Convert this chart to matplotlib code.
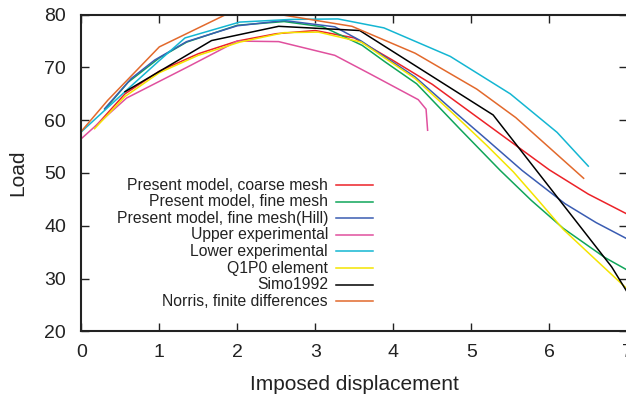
import numpy as np
import matplotlib
matplotlib.use('Agg')
from matplotlib import pyplot as plt

plt.rcParams['font.family'] = ['Liberation Sans', 'DejaVu Sans']

# Load vs imposed displacement, one list pair per curve
coarse_x = [0.18, 0.56, 1.0, 1.5, 2.0, 2.5, 3.0, 3.5, 4.0, 4.5, 5.0, 5.5, 6.0, 6.5, 7.0]
coarse_y = [58.8, 65.0, 69.3, 72.6, 75.0, 76.4, 77.0, 75.6, 71.3, 66.8, 61.4, 56.0, 50.6, 46.0, 42.2]

fine_x = [0.3, 0.6, 1.0, 1.35, 2.0, 2.6, 3.1, 3.6, 3.9, 4.3, 4.85, 5.37, 5.77, 6.18, 6.71, 7.0]
fine_y = [62.0, 67.2, 71.8, 74.8, 78.0, 78.7, 77.7, 74.2, 71.0, 66.9, 58.4, 50.5, 44.8, 39.5, 34.0, 31.6]

hill_x = [0.3, 0.64, 0.94, 1.35, 2.0, 2.6, 3.25, 3.59, 4.28, 4.8, 5.2, 5.65, 6.2, 6.6, 7.0]
hill_y = [62.2, 67.9, 71.4, 74.9, 77.9, 78.9, 77.7, 75.0, 68.2, 61.4, 56.3, 50.5, 44.2, 40.6, 37.5]

upper_x = [0.0, 0.58, 1.35, 2.0, 2.53, 3.25, 3.7, 4.32, 4.42, 4.44]
upper_y = [56.5, 64.2, 70.0, 75.0, 74.9, 72.3, 68.8, 63.9, 62.1, 58.1]

lower_x = [0.0, 0.64, 1.0, 1.33, 2.03, 2.68, 3.29, 3.88, 4.73, 5.5, 6.1, 6.5]
lower_y = [57.8, 66.5, 71.3, 75.6, 78.6, 79.1, 79.2, 77.5, 72.1, 65.0, 57.7, 51.3]

q1p0_x = [0.17, 0.56, 1.0, 1.5, 2.03, 2.6, 3.04, 3.59, 4.28, 4.8, 5.2, 5.54, 5.86, 6.18, 6.6, 7.0]
q1p0_y = [58.4, 64.5, 69.0, 72.3, 74.8, 76.6, 76.7, 74.8, 67.9, 60.8, 55.2, 50.2, 44.8, 39.3, 33.5, 28.0]

simo_x = [0.56, 1.67, 2.53, 3.57, 5.28, 6.8, 7.0]
simo_y = [65.4, 75.1, 77.8, 77.0, 61.0, 32.2, 27.4]

norris_x = [0.0, 0.34, 1.0, 1.85, 2.6, 3.47, 4.28, 5.07, 5.57, 6.44]
norris_y = [57.9, 63.8, 73.9, 80.0, 79.9, 77.8, 72.7, 65.9, 60.5, 49.0]

labels = ['Present model, coarse mesh', 'Present model, fine mesh',
          'Present model, fine mesh(Hill)', 'Upper experimental',
          'Lower experimental', 'Q1P0 element', 'Simo1992',
          'Norris, finite differences']
colors = ['#ec2228', '#10a55a', '#3a5cb2', '#e0509e',
          '#14b6d2', '#f4e400', '#000000', '#e2692c']

xs = [coarse_x, fine_x, hill_x, upper_x, lower_x, q1p0_x, simo_x, norris_x]
ys = [coarse_y, fine_y, hill_y, upper_y, lower_y, q1p0_y, simo_y, norris_y]

W, H = 626, 400
left, right, top, bottom = 81.3, 627.3, 14.7, 331.3

fig = plt.figure(figsize=(W / 100, H / 100), dpi=100)
ax = fig.add_axes([left / W, 1 - bottom / H, (right - left) / W, (bottom - top) / H])

for i in range(len(xs)):
    ax.plot(xs[i], ys[i], color=colors[i], lw=1.1)

ax.set_xlim(0, 7)
ax.set_ylim(20, 80)
ax.set_xticks(range(0, 8))
ax.set_yticks(range(20, 81, 10))

ax.tick_params(direction='in', length=6, width=1.0, top=True, right=True,
               labelsize=14, colors='#222222')
ax.tick_params(axis='x', pad=9)
ax.tick_params(axis='y', pad=11)
for s in ax.spines.values():
    s.set_linewidth(1.5)
    s.set_color('#222222')

ax.set_xlabel('Imposed displacement', fontsize=15, labelpad=10, color='#222222')
ax.set_ylabel('Load', fontsize=15, labelpad=12, color='#222222')


# gnuplot style key: right aligned text, line sample on its right
def px_to_axes(px, py):
    return (px - left) / (right - left), 1 - (py - top) / (bottom - top)


for i in range(len(labels)):
    row = 185 + i * 16.6
    tx, ty = px_to_axes(328, row)
    x0, _ = px_to_axes(336, row)
    x1, _ = px_to_axes(373.3, row)
    ax.text(tx, ty, labels[i], transform=ax.transAxes, ha='right', va='center',
            fontsize=11.3, color='#222222')
    ax.plot([x0, x1], [ty, ty], transform=ax.transAxes, color=colors[i], lw=1.1)

plt.savefig('out.png', dpi=100)
